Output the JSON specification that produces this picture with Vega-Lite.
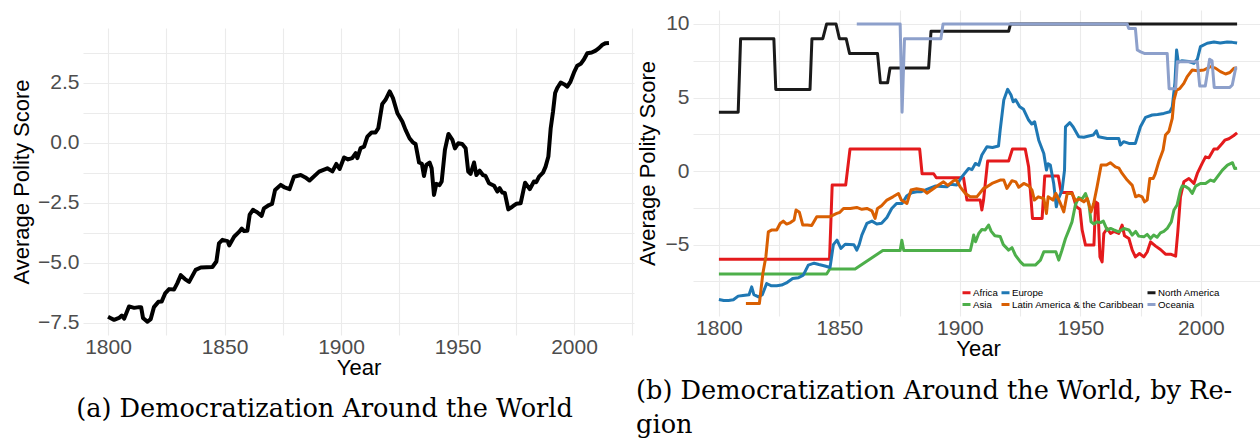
{
  "$schema": "https://vega.github.io/schema/vega-lite/v6.json",
  "background": "white",
  "padding": {"left": 10, "top": 10, "right": 2, "bottom": 0},
  "spacing": 2,
  "resolve": {"scale": {"color": "independent"}, "legend": {"color": "independent"}},
  "config": {
    "view": {"stroke": null},
    "axis": {
      "domain": false, "ticks": false, "grid": true, "gridColor": "#ebebeb", "gridWidth": 1.1,
      "labelFont": "Liberation Sans", "labelFontSize": 21, "labelColor": "#4d4d4d",
      "titleFont": "Liberation Sans", "titleFontSize": 22, "titleFontWeight": "normal", "titleColor": "black"
    },
    "axisX": {"labelPadding": 1, "titlePadding": 0, "labelFlush": false, "labelOverlap": false},
    "axisY": {"labelPadding": 4, "titlePadding": 4, "labelOverlap": false},
    "title": {"font": "DejaVu Serif", "fontSize": 25.6, "fontWeight": "normal", "color": "black"}
  },
  "datasets": {
    "world": [
      {"year":1800,"score":-7.25},{"year":1801,"score":-7.3},{"year":1802.6,"score":-7.38},{"year":1804.7,"score":-7.3},{"year":1805.9,"score":-7.2},{"year":1806.9,"score":-7.33},{"year":1809,"score":-6.82},{"year":1811.2,"score":-6.88},{"year":1813.3,"score":-6.85},{"year":1814.2,"score":-6.85},{"year":1815,"score":-7.3},{"year":1816.9,"score":-7.46},{"year":1818.3,"score":-7.35},{"year":1819.7,"score":-6.85},{"year":1821.6,"score":-6.63},{"year":1823,"score":-6.62},{"year":1824.5,"score":-6.28},{"year":1826.2,"score":-6.1},{"year":1828.3,"score":-6.12},{"year":1829.7,"score":-5.86},{"year":1831.2,"score":-5.52},{"year":1833,"score":-5.68},{"year":1834.8,"score":-5.8},{"year":1837.6,"score":-5.3},{"year":1839.8,"score":-5.2},{"year":1844.8,"score":-5.18},{"year":1846.5,"score":-4.95},{"year":1847.6,"score":-4.2},{"year":1849.1,"score":-4.05},{"year":1851.3,"score":-4.1},{"year":1852,"score":-4.28},{"year":1854.1,"score":-3.92},{"year":1856.2,"score":-3.72},{"year":1857.4,"score":-3.58},{"year":1858.4,"score":-3.68},{"year":1859.8,"score":-3.67},{"year":1860.8,"score":-3.0},{"year":1862.2,"score":-2.8},{"year":1864,"score":-2.9},{"year":1865.9,"score":-3.05},{"year":1866.9,"score":-2.74},{"year":1869.1,"score":-2.6},{"year":1870.4,"score":-2.55},{"year":1871.7,"score":-1.97},{"year":1874.1,"score":-1.76},{"year":1875.5,"score":-1.85},{"year":1877.9,"score":-1.94},{"year":1879.8,"score":-1.42},{"year":1882.7,"score":-1.35},{"year":1884.7,"score":-1.45},{"year":1886.5,"score":-1.58},{"year":1890.6,"score":-1.21},{"year":1894.1,"score":-1.07},{"year":1896.3,"score":-1.2},{"year":1898,"score":-0.89},{"year":1899.4,"score":-1.1},{"year":1901.3,"score":-0.62},{"year":1903,"score":-0.7},{"year":1904.8,"score":-0.65},{"year":1906.3,"score":-0.44},{"year":1907,"score":-0.65},{"year":1908.4,"score":-0.23},{"year":1909.9,"score":-0.17},{"year":1911.3,"score":0.25},{"year":1913.1,"score":0.42},{"year":1914.8,"score":0.42},{"year":1916,"score":0.6},{"year":1917.7,"score":1.61},{"year":1919.1,"score":1.78},{"year":1920.9,"score":2.13},{"year":1922.3,"score":1.85},{"year":1924.2,"score":1.22},{"year":1926.3,"score":0.88},{"year":1927.7,"score":0.53},{"year":1929.4,"score":0.18},{"year":1930.9,"score":0.0},{"year":1932,"score":-0.06},{"year":1933.5,"score":-0.83},{"year":1934.7,"score":-0.88},{"year":1935.6,"score":-1.39},{"year":1936.6,"score":-0.93},{"year":1938,"score":-0.83},{"year":1938.9,"score":-1.07},{"year":1939.9,"score":-2.18},{"year":1940.9,"score":-1.72},{"year":1942.3,"score":-1.77},{"year":1943.2,"score":-1.62},{"year":1944.6,"score":-0.3},{"year":1946.1,"score":0.36},{"year":1947.8,"score":0.11},{"year":1948.9,"score":-0.24},{"year":1950.3,"score":-0.03},{"year":1952,"score":-0.06},{"year":1953.5,"score":-0.24},{"year":1954.6,"score":-1.21},{"year":1955.6,"score":-1.3},{"year":1957.1,"score":-0.83},{"year":1958.1,"score":-1.35},{"year":1959.5,"score":-1.17},{"year":1960.9,"score":-1.35},{"year":1962,"score":-1.39},{"year":1963.5,"score":-1.69},{"year":1965.7,"score":-1.8},{"year":1967.1,"score":-2.04},{"year":1968.1,"score":-1.9},{"year":1969.2,"score":-2.08},{"year":1970.3,"score":-2.1},{"year":1971.8,"score":-2.78},{"year":1973.5,"score":-2.67},{"year":1975.2,"score":-2.55},{"year":1977.1,"score":-2.53},{"year":1979,"score":-1.67},{"year":1981,"score":-1.94},{"year":1982.8,"score":-1.62},{"year":1983.8,"score":-1.65},{"year":1985,"score":-1.42},{"year":1986.7,"score":-1.25},{"year":1987.8,"score":-1.0},{"year":1989,"score":-0.58},{"year":1990,"score":0.6},{"year":1991,"score":1.29},{"year":1991.9,"score":2.06},{"year":1992.8,"score":2.27},{"year":1994.3,"score":2.5},{"year":1995.7,"score":2.43},{"year":1997.1,"score":2.33},{"year":1998.5,"score":2.54},{"year":2000,"score":2.92},{"year":2001.4,"score":3.2},{"year":2002.9,"score":3.28},{"year":2004.3,"score":3.47},{"year":2005.7,"score":3.72},{"year":2007.6,"score":3.75},{"year":2009.3,"score":3.83},{"year":2010.7,"score":3.93},{"year":2012.2,"score":4.07},{"year":2013.6,"score":4.14},{"year":2015,"score":4.15}
    ],
    "regions": [
      {"region":"Africa","year":1800,"score":-6},{"region":"Africa","year":1845.9,"score":-6},{"region":"Africa","year":1847,"score":-0.95},{"region":"Africa","year":1852.6,"score":-0.95},{"region":"Africa","year":1854.4,"score":1.5},{"region":"Africa","year":1883.3,"score":1.5},{"region":"Africa","year":1884.3,"score":-0.18},{"region":"Africa","year":1889.1,"score":-0.18},{"region":"Africa","year":1890.2,"score":-0.45},{"region":"Africa","year":1901.5,"score":-0.45},{"region":"Africa","year":1902.9,"score":-1.97},{"region":"Africa","year":1908.4,"score":-1.97},{"region":"Africa","year":1909.1,"score":-2.65},{"region":"Africa","year":1909.8,"score":-1.97},{"region":"Africa","year":1911.5,"score":0.68},{"region":"Africa","year":1920.2,"score":0.68},{"region":"Africa","year":1921.8,"score":1.5},{"region":"Africa","year":1927.1,"score":1.5},{"region":"Africa","year":1928.5,"score":0.3},{"region":"Africa","year":1930.1,"score":-3.22},{"region":"Africa","year":1934.1,"score":-3.22},{"region":"Africa","year":1935.2,"score":-0.33},{"region":"Africa","year":1940.8,"score":-0.33},{"region":"Africa","year":1942,"score":-1.45},{"region":"Africa","year":1946.5,"score":-1.45},{"region":"Africa","year":1948.3,"score":-2.43},{"region":"Africa","year":1949.8,"score":-2.6},{"region":"Africa","year":1950.7,"score":-4.0},{"region":"Africa","year":1952.1,"score":-5.03},{"region":"Africa","year":1955.6,"score":-5.03},{"region":"Africa","year":1956.3,"score":-2.09},{"region":"Africa","year":1957.2,"score":-2.2},{"region":"Africa","year":1958.1,"score":-5.83},{"region":"Africa","year":1959,"score":-6.17},{"region":"Africa","year":1959.7,"score":-4.24},{"region":"Africa","year":1961.1,"score":-3.9},{"region":"Africa","year":1962.5,"score":-4.24},{"region":"Africa","year":1963.9,"score":-4.1},{"region":"Africa","year":1965.9,"score":-4.24},{"region":"Africa","year":1967.3,"score":-3.67},{"region":"Africa","year":1968.3,"score":-4.4},{"region":"Africa","year":1970.1,"score":-4.58},{"region":"Africa","year":1971.5,"score":-5.37},{"region":"Africa","year":1972.8,"score":-5.83},{"region":"Africa","year":1974.5,"score":-5.6},{"region":"Africa","year":1976.3,"score":-5.83},{"region":"Africa","year":1977.7,"score":-5.5},{"region":"Africa","year":1979.1,"score":-4.81},{"region":"Africa","year":1981.2,"score":-5.1},{"region":"Africa","year":1983.2,"score":-5.33},{"region":"Africa","year":1985.3,"score":-5.65},{"region":"Africa","year":1987.4,"score":-5.65},{"region":"Africa","year":1989.5,"score":-5.78},{"region":"Africa","year":1990.4,"score":-4.13},{"region":"Africa","year":1991.5,"score":-1.75},{"region":"Africa","year":1992.9,"score":-0.73},{"region":"Africa","year":1995,"score":-0.5},{"region":"Africa","year":1997.1,"score":-0.84},{"region":"Africa","year":1998.5,"score":-0.16},{"region":"Africa","year":2000.5,"score":0.52},{"region":"Africa","year":2001.9,"score":0.97},{"region":"Africa","year":2003.3,"score":0.9},{"region":"Africa","year":2005.4,"score":1.5},{"region":"Africa","year":2006.8,"score":1.5},{"region":"Africa","year":2008.8,"score":1.88},{"region":"Africa","year":2009.9,"score":2.1},{"region":"Africa","year":2011.6,"score":2.2},{"region":"Africa","year":2013.5,"score":2.4},{"region":"Africa","year":2015,"score":2.6},
      {"region":"Asia","year":1800,"score":-7},{"region":"Asia","year":1844.7,"score":-7},{"region":"Asia","year":1846,"score":-6.65},{"region":"Asia","year":1856.5,"score":-6.65},{"region":"Asia","year":1868,"score":-5.4},{"region":"Asia","year":1875.2,"score":-5.4},{"region":"Asia","year":1875.9,"score":-4.7},{"region":"Asia","year":1876.7,"score":-5.4},{"region":"Asia","year":1904.3,"score":-5.4},{"region":"Asia","year":1905,"score":-4.92},{"region":"Asia","year":1905.7,"score":-4.35},{"region":"Asia","year":1906.5,"score":-4.8},{"region":"Asia","year":1907.8,"score":-4.24},{"region":"Asia","year":1909.1,"score":-3.97},{"region":"Asia","year":1910.5,"score":-4.0},{"region":"Asia","year":1911.9,"score":-3.67},{"region":"Asia","year":1913,"score":-4.1},{"region":"Asia","year":1914.5,"score":-4.4},{"region":"Asia","year":1916.7,"score":-4.45},{"region":"Asia","year":1918,"score":-5.0},{"region":"Asia","year":1920.2,"score":-5.37},{"region":"Asia","year":1921.6,"score":-5.2},{"region":"Asia","year":1923,"score":-5.71},{"region":"Asia","year":1925.1,"score":-6.17},{"region":"Asia","year":1926.5,"score":-6.39},{"region":"Asia","year":1931.3,"score":-6.39},{"region":"Asia","year":1933.4,"score":-6.05},{"region":"Asia","year":1934.8,"score":-5.49},{"region":"Asia","year":1939.8,"score":-5.49},{"region":"Asia","year":1941,"score":-6.05},{"region":"Asia","year":1942.3,"score":-5.4},{"region":"Asia","year":1943.8,"score":-4.58},{"region":"Asia","year":1945.2,"score":-4.01},{"region":"Asia","year":1946.5,"score":-3.45},{"region":"Asia","year":1947.9,"score":-2.3},{"region":"Asia","year":1949.3,"score":-1.8},{"region":"Asia","year":1950.7,"score":-1.9},{"region":"Asia","year":1952.1,"score":-1.52},{"region":"Asia","year":1953.5,"score":-2.2},{"region":"Asia","year":1954.4,"score":-3.45},{"region":"Asia","year":1955.6,"score":-3.6},{"region":"Asia","year":1956.9,"score":-3.45},{"region":"Asia","year":1958.3,"score":-3.5},{"region":"Asia","year":1959.5,"score":-3.4},{"region":"Asia","year":1961.1,"score":-4.01},{"region":"Asia","year":1962.5,"score":-3.9},{"region":"Asia","year":1963.9,"score":-4.0},{"region":"Asia","year":1965.9,"score":-4.13},{"region":"Asia","year":1968,"score":-3.9},{"region":"Asia","year":1970.1,"score":-4.0},{"region":"Asia","year":1971.5,"score":-4.35},{"region":"Asia","year":1972.9,"score":-4.1},{"region":"Asia","year":1974.2,"score":-4.42},{"region":"Asia","year":1976.3,"score":-4.47},{"region":"Asia","year":1977.7,"score":-4.3},{"region":"Asia","year":1979.1,"score":-4.58},{"region":"Asia","year":1980.4,"score":-4.35},{"region":"Asia","year":1981.8,"score":-4.5},{"region":"Asia","year":1983.2,"score":-4.2},{"region":"Asia","year":1984.6,"score":-4.1},{"region":"Asia","year":1986,"score":-3.9},{"region":"Asia","year":1987.7,"score":-3.45},{"region":"Asia","year":1988.8,"score":-2.65},{"region":"Asia","year":1990.1,"score":-2.31},{"region":"Asia","year":1991.5,"score":-1.29},{"region":"Asia","year":1992.2,"score":-1.02},{"region":"Asia","year":1993.6,"score":-1.05},{"region":"Asia","year":1995,"score":-1.2},{"region":"Asia","year":1996.4,"score":-1.52},{"region":"Asia","year":1997.8,"score":-1.02},{"region":"Asia","year":1999.8,"score":-0.84},{"region":"Asia","year":2001.9,"score":-0.84},{"region":"Asia","year":2004,"score":-0.61},{"region":"Asia","year":2005.4,"score":-0.7},{"region":"Asia","year":2006.8,"score":-0.39},{"region":"Asia","year":2008.9,"score":0.07},{"region":"Asia","year":2011,"score":0.41},{"region":"Asia","year":2013.1,"score":0.57},{"region":"Asia","year":2014,"score":0.18},{"region":"Asia","year":2015,"score":0.2},
      {"region":"Europe","year":1800,"score":-8.73},{"region":"Europe","year":1802,"score":-8.8},{"region":"Europe","year":1804,"score":-8.8},{"region":"Europe","year":1806,"score":-8.75},{"region":"Europe","year":1808,"score":-8.5},{"region":"Europe","year":1810,"score":-8.45},{"region":"Europe","year":1812.5,"score":-8.4},{"region":"Europe","year":1813.6,"score":-7.87},{"region":"Europe","year":1814.5,"score":-8.4},{"region":"Europe","year":1816.4,"score":-8.55},{"region":"Europe","year":1818,"score":-8.4},{"region":"Europe","year":1819.8,"score":-7.64},{"region":"Europe","year":1821.8,"score":-7.8},{"region":"Europe","year":1824,"score":-7.8},{"region":"Europe","year":1826,"score":-7.75},{"region":"Europe","year":1828,"score":-7.6},{"region":"Europe","year":1830.6,"score":-7.3},{"region":"Europe","year":1833,"score":-7.25},{"region":"Europe","year":1835,"score":-7.07},{"region":"Europe","year":1837.1,"score":-6.39},{"region":"Europe","year":1839.5,"score":-6.26},{"region":"Europe","year":1841.5,"score":-6.35},{"region":"Europe","year":1844,"score":-6.45},{"region":"Europe","year":1846.1,"score":-6.55},{"region":"Europe","year":1847.5,"score":-5.0},{"region":"Europe","year":1849,"score":-4.69},{"region":"Europe","year":1850.6,"score":-5.26},{"region":"Europe","year":1852.4,"score":-4.97},{"region":"Europe","year":1856,"score":-5.0},{"region":"Europe","year":1857.2,"score":-5.37},{"region":"Europe","year":1858.2,"score":-5.0},{"region":"Europe","year":1859.3,"score":-4.35},{"region":"Europe","year":1861.4,"score":-3.56},{"region":"Europe","year":1863.5,"score":-3.4},{"region":"Europe","year":1865.5,"score":-3.6},{"region":"Europe","year":1867.5,"score":-3.55},{"region":"Europe","year":1869.7,"score":-3.15},{"region":"Europe","year":1871.7,"score":-2.54},{"region":"Europe","year":1873.7,"score":-2.2},{"region":"Europe","year":1876,"score":-2.2},{"region":"Europe","year":1877.9,"score":-1.7},{"region":"Europe","year":1880,"score":-1.47},{"region":"Europe","year":1882.1,"score":-1.4},{"region":"Europe","year":1884,"score":-1.4},{"region":"Europe","year":1886.3,"score":-1.25},{"region":"Europe","year":1889.7,"score":-1.02},{"region":"Europe","year":1892.5,"score":-1.05},{"region":"Europe","year":1894.6,"score":-1.07},{"region":"Europe","year":1896,"score":-0.9},{"region":"Europe","year":1898.7,"score":-0.95},{"region":"Europe","year":1900.8,"score":-0.39},{"region":"Europe","year":1903.6,"score":0.18},{"region":"Europe","year":1905,"score":0.1},{"region":"Europe","year":1906.4,"score":0.52},{"region":"Europe","year":1907.8,"score":0.4},{"region":"Europe","year":1909.1,"score":1.09},{"region":"Europe","year":1911.2,"score":1.65},{"region":"Europe","year":1913.5,"score":1.6},{"region":"Europe","year":1916,"score":1.7},{"region":"Europe","year":1916.7,"score":2.79},{"region":"Europe","year":1918.2,"score":4.83},{"region":"Europe","year":1919.8,"score":5.56},{"region":"Europe","year":1921.2,"score":5.17},{"region":"Europe","year":1922.1,"score":4.71},{"region":"Europe","year":1923.1,"score":4.85},{"region":"Europe","year":1924.8,"score":4.37},{"region":"Europe","year":1926.4,"score":4.2},{"region":"Europe","year":1928.5,"score":3.47},{"region":"Europe","year":1929.8,"score":3.2},{"region":"Europe","year":1931,"score":3.35},{"region":"Europe","year":1932.7,"score":2.1},{"region":"Europe","year":1934.8,"score":1.2},{"region":"Europe","year":1935.9,"score":0.07},{"region":"Europe","year":1936.6,"score":0.5},{"region":"Europe","year":1937.5,"score":0.41},{"region":"Europe","year":1938.9,"score":-0.84},{"region":"Europe","year":1940,"score":-2.43},{"region":"Europe","year":1940.6,"score":-2.0},{"region":"Europe","year":1942.4,"score":-1.29},{"region":"Europe","year":1943.4,"score":0.07},{"region":"Europe","year":1943.8,"score":3.01},{"region":"Europe","year":1945.6,"score":3.29},{"region":"Europe","year":1947,"score":3.0},{"region":"Europe","year":1949.3,"score":2.33},{"region":"Europe","year":1951.4,"score":2.3},{"region":"Europe","year":1953.5,"score":2.38},{"region":"Europe","year":1955.3,"score":2.45},{"region":"Europe","year":1956.6,"score":2.74},{"region":"Europe","year":1957.5,"score":2.33},{"region":"Europe","year":1961.1,"score":2.22},{"region":"Europe","year":1965.9,"score":2.22},{"region":"Europe","year":1966.6,"score":1.77},{"region":"Europe","year":1967.9,"score":2.0},{"region":"Europe","year":1970.1,"score":1.88},{"region":"Europe","year":1972.8,"score":1.88},{"region":"Europe","year":1974.9,"score":3.01},{"region":"Europe","year":1977,"score":3.65},{"region":"Europe","year":1979.8,"score":3.81},{"region":"Europe","year":1982,"score":3.85},{"region":"Europe","year":1984.6,"score":3.92},{"region":"Europe","year":1987.1,"score":4.03},{"region":"Europe","year":1988.1,"score":4.37},{"region":"Europe","year":1989.2,"score":6.0},{"region":"Europe","year":1989.9,"score":8.23},{"region":"Europe","year":1990.6,"score":7.4},{"region":"Europe","year":1992,"score":7.5},{"region":"Europe","year":1995,"score":7.45},{"region":"Europe","year":1997.1,"score":7.33},{"region":"Europe","year":1998.5,"score":7.6},{"region":"Europe","year":1999.8,"score":8.46},{"region":"Europe","year":2002.6,"score":8.69},{"region":"Europe","year":2005.4,"score":8.77},{"region":"Europe","year":2008,"score":8.7},{"region":"Europe","year":2010.9,"score":8.77},{"region":"Europe","year":2013,"score":8.75},{"region":"Europe","year":2015,"score":8.7},
      {"region":"Latin America & the Caribbean","year":1811.2,"score":-9.0},{"region":"Latin America & the Caribbean","year":1816.8,"score":-9.0},{"region":"Latin America & the Caribbean","year":1818.2,"score":-7.0},{"region":"Latin America & the Caribbean","year":1819.5,"score":-5.8},{"region":"Latin America & the Caribbean","year":1820.5,"score":-4.13},{"region":"Latin America & the Caribbean","year":1822,"score":-4.0},{"region":"Latin America & the Caribbean","year":1824,"score":-4.0},{"region":"Latin America & the Caribbean","year":1825.4,"score":-3.56},{"region":"Latin America & the Caribbean","year":1826.7,"score":-3.4},{"region":"Latin America & the Caribbean","year":1828.1,"score":-3.6},{"region":"Latin America & the Caribbean","year":1829.7,"score":-3.5},{"region":"Latin America & the Caribbean","year":1831.2,"score":-3.33},{"region":"Latin America & the Caribbean","year":1832,"score":-2.65},{"region":"Latin America & the Caribbean","year":1833.4,"score":-2.8},{"region":"Latin America & the Caribbean","year":1834.8,"score":-3.67},{"region":"Latin America & the Caribbean","year":1836.7,"score":-3.67},{"region":"Latin America & the Caribbean","year":1838.5,"score":-3.7},{"region":"Latin America & the Caribbean","year":1840.6,"score":-3.11},{"region":"Latin America & the Caribbean","year":1845.9,"score":-3.11},{"region":"Latin America & the Caribbean","year":1848.9,"score":-2.88},{"region":"Latin America & the Caribbean","year":1850.2,"score":-2.8},{"region":"Latin America & the Caribbean","year":1851.7,"score":-2.54},{"region":"Latin America & the Caribbean","year":1854.5,"score":-2.54},{"region":"Latin America & the Caribbean","year":1857.2,"score":-2.47},{"region":"Latin America & the Caribbean","year":1859.3,"score":-2.6},{"region":"Latin America & the Caribbean","year":1861.4,"score":-2.54},{"region":"Latin America & the Caribbean","year":1863.5,"score":-2.7},{"region":"Latin America & the Caribbean","year":1864.8,"score":-3.22},{"region":"Latin America & the Caribbean","year":1865.8,"score":-2.54},{"region":"Latin America & the Caribbean","year":1867.5,"score":-2.35},{"region":"Latin America & the Caribbean","year":1869.7,"score":-1.97},{"region":"Latin America & the Caribbean","year":1872.2,"score":-1.75},{"region":"Latin America & the Caribbean","year":1874.5,"score":-1.52},{"region":"Latin America & the Caribbean","year":1875.7,"score":-1.97},{"region":"Latin America & the Caribbean","year":1878,"score":-2.2},{"region":"Latin America & the Caribbean","year":1879.7,"score":-1.29},{"region":"Latin America & the Caribbean","year":1882,"score":-1.2},{"region":"Latin America & the Caribbean","year":1884.9,"score":-1.29},{"region":"Latin America & the Caribbean","year":1886.3,"score":-1.5},{"region":"Latin America & the Caribbean","year":1889.1,"score":-1.18},{"region":"Latin America & the Caribbean","year":1891,"score":-0.97},{"region":"Latin America & the Caribbean","year":1893.2,"score":-0.73},{"region":"Latin America & the Caribbean","year":1895,"score":-0.97},{"region":"Latin America & the Caribbean","year":1897.4,"score":-0.65},{"region":"Latin America & the Caribbean","year":1898.5,"score":-0.61},{"region":"Latin America & the Caribbean","year":1900.1,"score":-1.07},{"region":"Latin America & the Caribbean","year":1902.2,"score":-1.52},{"region":"Latin America & the Caribbean","year":1904.3,"score":-1.75},{"region":"Latin America & the Caribbean","year":1907,"score":-1.75},{"region":"Latin America & the Caribbean","year":1909.8,"score":-1.18},{"region":"Latin America & the Caribbean","year":1911.2,"score":-1.07},{"region":"Latin America & the Caribbean","year":1913.3,"score":-0.84},{"region":"Latin America & the Caribbean","year":1916.7,"score":-0.61},{"region":"Latin America & the Caribbean","year":1918.2,"score":-0.61},{"region":"Latin America & the Caribbean","year":1919.5,"score":-1.18},{"region":"Latin America & the Caribbean","year":1921.6,"score":-0.65},{"region":"Latin America & the Caribbean","year":1923.2,"score":-0.73},{"region":"Latin America & the Caribbean","year":1924.4,"score":-1.1},{"region":"Latin America & the Caribbean","year":1926.5,"score":-0.84},{"region":"Latin America & the Caribbean","year":1928.6,"score":-1.0},{"region":"Latin America & the Caribbean","year":1929.9,"score":-1.29},{"region":"Latin America & the Caribbean","year":1930.9,"score":-1.97},{"region":"Latin America & the Caribbean","year":1932.5,"score":-1.75},{"region":"Latin America & the Caribbean","year":1934.8,"score":-1.86},{"region":"Latin America & the Caribbean","year":1935.9,"score":-2.88},{"region":"Latin America & the Caribbean","year":1936.6,"score":-1.75},{"region":"Latin America & the Caribbean","year":1938.6,"score":-1.97},{"region":"Latin America & the Caribbean","year":1939.8,"score":-1.52},{"region":"Latin America & the Caribbean","year":1941.7,"score":-2.2},{"region":"Latin America & the Caribbean","year":1943.1,"score":-2.77},{"region":"Latin America & the Caribbean","year":1944.5,"score":-1.52},{"region":"Latin America & the Caribbean","year":1946.5,"score":-1.52},{"region":"Latin America & the Caribbean","year":1947.9,"score":-2.0},{"region":"Latin America & the Caribbean","year":1949.5,"score":-1.9},{"region":"Latin America & the Caribbean","year":1951.4,"score":-2.09},{"region":"Latin America & the Caribbean","year":1952.8,"score":-1.86},{"region":"Latin America & the Caribbean","year":1954.4,"score":-2.77},{"region":"Latin America & the Caribbean","year":1955.5,"score":-2.2},{"region":"Latin America & the Caribbean","year":1956.9,"score":-1.07},{"region":"Latin America & the Caribbean","year":1958.6,"score":0.41},{"region":"Latin America & the Caribbean","year":1960.8,"score":0.41},{"region":"Latin America & the Caribbean","year":1962.4,"score":0.57},{"region":"Latin America & the Caribbean","year":1964.5,"score":0.29},{"region":"Latin America & the Caribbean","year":1966,"score":0.2},{"region":"Latin America & the Caribbean","year":1967.3,"score":-0.16},{"region":"Latin America & the Caribbean","year":1969.4,"score":-0.61},{"region":"Latin America & the Caribbean","year":1971.5,"score":-0.97},{"region":"Latin America & the Caribbean","year":1972.9,"score":-1.75},{"region":"Latin America & the Caribbean","year":1974.2,"score":-1.65},{"region":"Latin America & the Caribbean","year":1975.6,"score":-1.75},{"region":"Latin America & the Caribbean","year":1976.6,"score":-2.09},{"region":"Latin America & the Caribbean","year":1977.7,"score":-1.97},{"region":"Latin America & the Caribbean","year":1978.8,"score":-0.5},{"region":"Latin America & the Caribbean","year":1980.2,"score":-0.5},{"region":"Latin America & the Caribbean","year":1981,"score":-0.2},{"region":"Latin America & the Caribbean","year":1982.5,"score":0.63},{"region":"Latin America & the Caribbean","year":1984.3,"score":1.43},{"region":"Latin America & the Caribbean","year":1985.3,"score":2.45},{"region":"Latin America & the Caribbean","year":1986.7,"score":2.7},{"region":"Latin America & the Caribbean","year":1988.1,"score":3.58},{"region":"Latin America & the Caribbean","year":1988.8,"score":4.83},{"region":"Latin America & the Caribbean","year":1989.9,"score":5.51},{"region":"Latin America & the Caribbean","year":1991.2,"score":5.6},{"region":"Latin America & the Caribbean","year":1992.9,"score":5.96},{"region":"Latin America & the Caribbean","year":1994.3,"score":6.42},{"region":"Latin America & the Caribbean","year":1996.4,"score":6.87},{"region":"Latin America & the Caribbean","year":1998.5,"score":6.82},{"region":"Latin America & the Caribbean","year":2001.2,"score":6.87},{"region":"Latin America & the Caribbean","year":2004,"score":7.1},{"region":"Latin America & the Caribbean","year":2006,"score":7.0},{"region":"Latin America & the Caribbean","year":2008.1,"score":6.76},{"region":"Latin America & the Caribbean","year":2010.2,"score":6.6},{"region":"Latin America & the Caribbean","year":2012,"score":6.7},{"region":"Latin America & the Caribbean","year":2013.7,"score":6.99},{"region":"Latin America & the Caribbean","year":2015,"score":7.0},
      {"region":"North America","year":1800,"score":4},{"region":"North America","year":1808,"score":4},{"region":"North America","year":1809,"score":9},{"region":"North America","year":1822.8,"score":9},{"region":"North America","year":1823.6,"score":5.55},{"region":"North America","year":1837.8,"score":5.55},{"region":"North America","year":1838.6,"score":9},{"region":"North America","year":1843.1,"score":9},{"region":"North America","year":1844.7,"score":10},{"region":"North America","year":1848.6,"score":10},{"region":"North America","year":1850,"score":9},{"region":"North America","year":1852.8,"score":9},{"region":"North America","year":1854.2,"score":8},{"region":"North America","year":1865.8,"score":8},{"region":"North America","year":1867,"score":6},{"region":"North America","year":1870,"score":6},{"region":"North America","year":1871,"score":7},{"region":"North America","year":1887,"score":7},{"region":"North America","year":1888,"score":9.5},{"region":"North America","year":1920.2,"score":9.5},{"region":"North America","year":1921,"score":10},{"region":"North America","year":2015,"score":10},
      {"region":"Oceania","year":1857.2,"score":10},{"region":"Oceania","year":1875.2,"score":10},{"region":"Oceania","year":1876,"score":4},{"region":"Oceania","year":1877,"score":9},{"region":"Oceania","year":1892.1,"score":9},{"region":"Oceania","year":1893,"score":10},{"region":"Oceania","year":1969.4,"score":10},{"region":"Oceania","year":1970,"score":9.7},{"region":"Oceania","year":1972.8,"score":9.7},{"region":"Oceania","year":1973.6,"score":8.23},{"region":"Oceania","year":1975,"score":8.1},{"region":"Oceania","year":1976.5,"score":8.0},{"region":"Oceania","year":1986,"score":8.0},{"region":"Oceania","year":1986.8,"score":5.6},{"region":"Oceania","year":1989.5,"score":5.6},{"region":"Oceania","year":1990.2,"score":7.44},{"region":"Oceania","year":1998.5,"score":7.44},{"region":"Oceania","year":1999.5,"score":5.78},{"region":"Oceania","year":2001.8,"score":5.78},{"region":"Oceania","year":2003.6,"score":7.6},{"region":"Oceania","year":2004.6,"score":7.5},{"region":"Oceania","year":2005.5,"score":5.69},{"region":"Oceania","year":2012,"score":5.69},{"region":"Oceania","year":2013,"score":5.85},{"region":"Oceania","year":2014.4,"score":7.0},{"region":"Oceania","year":2015,"score":7.0}
    ]
  },
  "hconcat": [
    {
      "spacing": 0,
      "vconcat": [
        {"width": 10, "height": 18, "data": {"values": [{}]}, "mark": {"type": "point", "opacity": 0}, "encoding": {}},
        {
          "width": 551, "height": 307,
          "data": {"name": "world"},
          "title": {"text": "(a) Democratization Around the World", "orient": "bottom", "anchor": "middle", "frame": "group", "dx": -34, "offset": 19},
          "mark": {"type": "line", "color": "black", "strokeWidth": 4, "strokeJoin": "round"},
          "encoding": {
            "x": {"field": "year", "type": "quantitative",
              "scale": {"domain": [1789.25, 2025.75], "nice": false, "zero": false},
              "axis": {"title": "Year", "values": [1800,1825,1850,1875,1900,1925,1950,1975,2000,2025], "format": "d", "labelExpr": "datum.value % 50 == 0 ? datum.label : ''"}},
            "y": {"field": "score", "type": "quantitative",
              "scale": {"domain": [-8.01, 4.77], "nice": false, "zero": false},
              "axis": {"title": "Average Polity Score", "values": [-7.5,-6.25,-5,-3.75,-2.5,-1.25,0,1.25,2.5,3.75], "format": ".1f", "labelExpr": "abs(datum.value % 2.5) < 0.001 ? datum.label : ''"}}
          }
        }
      ]
    },
    {
      "width": 570, "height": 306,
      "data": {"name": "regions"},
      "title": {"text": ["(b) Democratization Around the World, by Re-", "gion"], "orient": "bottom", "anchor": "start", "offset": 20, "lineHeight": 34},
      "mark": {"type": "line", "strokeWidth": 3, "strokeJoin": "round"},
      "encoding": {
        "x": {"field": "year", "type": "quantitative",
          "scale": {"domain": [1789.25, 2025.75], "nice": false, "zero": false},
          "axis": {"title": "Year", "values": [1800,1825,1850,1875,1900,1925,1950,1975,2000,2025], "format": "d", "labelExpr": "datum.value % 50 == 0 ? datum.label : ''"}},
        "y": {"field": "score", "type": "quantitative",
          "scale": {"domain": [-9.85, 10.95], "nice": false, "zero": false},
          "axis": {"title": "Average Polity Score", "values": [-7.5,-5,-2.5,0,2.5,5,7.5,10], "format": "d", "labelExpr": "datum.value % 5 == 0 ? datum.label : ''", "titlePadding": 6}},
        "color": {"field": "region", "type": "nominal",
          "scale": {"domain": ["Africa","Asia","Europe","Latin America & the Caribbean","North America","Oceania"],
                    "range": ["#e41a1c","#4daf4a","#1f78b4","#d95f02","#1a1a1a","#8da0cb"]},
          "legend": {"title": null, "orient": "none", "legendX": 268, "legendY": 277, "columns": 3, "symbolType": "stroke", "symbolSize": 64, "symbolStrokeWidth": 3, "labelFont": "Liberation Sans", "labelFontSize": 9.7, "labelColor": "black", "labelOffset": 1, "columnPadding": -3, "rowPadding": -3, "padding": 0}}
      }
    }
  ]
}
